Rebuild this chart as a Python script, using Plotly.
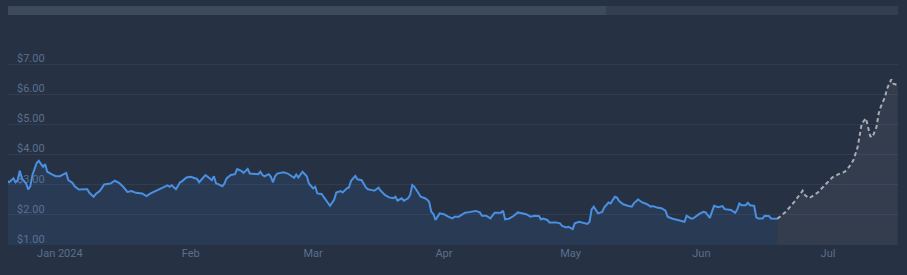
import pandas as pd
import plotly.graph_objects as go

# ---- data (day offsets from 2024-01-01, price in USD) ----
hist_days = [-12.5, -12, -11, -10.5, -10, -9.5, -9, -8.5, -8, -7.5, -7, -6.5, -5.5, -5, -4.5, -4, -3.5, -3, -2, -1,
             0, 0.5, 1.5, 2, 3, 3.5, 4.5, 6, 6.5, 7, 8, 8.5, 9.5, 10.5, 11.5, 12, 13, 14, 15, 16, 17, 18, 19.5, 20.5,
             21.5, 22.5, 23.5, 24.5, 25.5, 26, 26.5, 27.5, 28, 28.5, 29, 30, 31, 31.5, 32.5, 33, 34, 34.5, 35.5, 36,
             36.5, 37, 37.5, 38.5, 39, 39.5, 40.5, 41.5, 42, 43, 43.5, 44.5, 45, 46, 47, 47.5, 48, 48.5, 49.5, 50,
             50.5, 51, 51.5, 53, 54, 54.5, 55.5, 56, 56.5, 57.5, 58.5, 59, 60, 60.5, 61, 62, 63, 63.5, 64, 65, 65.5,
             66.5, 67, 68, 68.5, 69, 70, 70.5, 71.5, 72.5, 73, 74, 74.5, 75.5, 76, 77, 78, 79, 79.5, 80, 81, 81.5,
             82.5, 83, 83.5, 84, 85, 85.5, 86.5, 87, 87.5, 88, 88.5, 89, 89.5, 90, 91, 91.5, 92, 93, 93.5, 94.5, 95,
             96, 97, 98.5, 99.5, 100, 101, 102, 103, 104, 104.5, 105, 105.5, 106.5, 107.5, 108.5, 109.5, 110.5,
             111.5, 112.5, 113.5, 114, 114.5, 115.5, 116, 117.5, 118.5, 119, 120, 120.5, 121.5, 122, 123, 124, 125,
             125.5, 126, 126.5, 127.5, 128.5, 129, 130, 130.5, 131.5, 132, 132.5, 133.5, 134.5, 135.5, 136, 137,
             138, 139, 140, 140.5, 141.5, 142.5, 143.5, 144, 145, 145.5, 146.5, 147.5, 148, 148.5, 149.5, 150, 151,
             151.5, 152.5, 153, 154, 154.5, 155, 156, 157, 157.5, 159, 160, 160.5, 161, 161.5, 162.5, 163, 163.5,
             164.5, 165, 165.5, 166.5, 167, 168, 168.5, 170]
hist_price = [3.13, 3.08, 3.21, 3.08, 3.15, 3.46, 3.21, 3.13, 3.04, 2.84, 2.95, 3.32, 3.72, 3.79, 3.70, 3.59, 3.68, 3.43, 3.35, 3.28,
              3.28, 3.32, 3.39, 3.15, 3.06, 2.95, 2.84, 2.85, 2.85, 2.73, 2.60, 2.69, 2.80, 3.01, 3.02, 3.04, 3.13, 3.06, 2.93, 2.76, 2.79, 2.73, 2.71, 2.62,
              2.71, 2.78, 2.85, 2.90, 2.98, 2.93, 2.98, 2.85, 2.95, 3.08, 3.12, 3.24, 3.26, 3.24, 3.19, 3.08, 3.24, 3.32, 3.21, 3.15,
              3.28, 3.04, 3.02, 2.95, 3.04, 3.21, 3.32, 3.35, 3.52, 3.46, 3.39, 3.52, 3.37, 3.35, 3.35, 3.43, 3.32, 3.28, 3.35, 3.26,
              3.08, 3.28, 3.37, 3.41, 3.37, 3.32, 3.23, 3.34, 3.24, 3.43, 3.28, 3.04, 2.88, 2.93, 2.71, 2.69, 2.49, 2.36, 2.30, 2.51, 2.74,
              2.79, 2.74, 2.88, 2.91, 3.13, 3.29, 3.18, 3.15, 2.91, 2.85, 2.82, 2.80, 2.90, 2.80, 2.66, 2.58, 2.55, 2.60, 2.47, 2.55, 2.47,
              2.55, 2.66, 2.99, 2.93, 2.71, 2.60, 2.55, 2.51, 2.43, 2.10, 2.03, 1.83, 1.94, 2.05, 2.02, 1.97, 1.94, 1.88, 1.94, 1.94, 1.99,
              2.07, 2.09, 2.13, 2.08, 1.97, 1.97, 1.88, 2.07, 2.08, 2.07, 2.14, 1.85, 1.88, 1.96, 2.08, 2.05, 2.02,
              1.94, 1.97, 1.96, 1.85, 1.88, 1.83, 1.75, 1.75, 1.72, 1.63, 1.58, 1.60, 1.53, 1.72, 1.77, 1.74, 1.70,
              1.77, 2.18, 2.27, 2.05, 2.10, 2.25, 2.41, 2.38, 2.60, 2.57, 2.46, 2.35, 2.30, 2.27, 2.38, 2.51,
              2.41, 2.36, 2.27, 2.29, 2.24, 2.22, 2.14, 1.94, 1.88, 1.86, 1.83, 1.80, 1.77, 1.97, 1.88, 1.88, 1.99,
              2.03, 2.10, 2.08, 1.90, 2.10, 2.30, 2.25, 2.29, 2.19, 2.16, 2.07, 2.18, 2.38, 2.32, 2.32, 2.40, 2.32,
              2.30, 1.92, 1.88, 1.88, 1.97, 1.96, 1.88, 1.87]

fc_days = [170, 172, 174, 176, 176.5, 177.5, 179.5, 181.5, 183, 184.5, 186, 187, 188, 189, 189.5, 190, 191, 191.5,
           192, 192.5, 193.5, 194, 194.5, 195.5, 196, 197, 197.5, 198.5]
fc_price = [1.87, 2.10, 2.43, 2.80, 2.66, 2.55, 2.73, 3.02, 3.24, 3.35, 3.43, 3.59, 3.81, 4.23, 4.61, 5.03, 5.20, 4.92,
            4.61, 4.57, 4.92, 5.36, 5.58, 5.91, 6.19, 6.49, 6.35, 6.30]

month_ticks = ["2024-01-01", "2024-02-01", "2024-03-01", "2024-04-01", "2024-05-01", "2024-06-01", "2024-07-01"]
month_labels = ["Jan 2024", "Feb", "Mar", "Apr", "May", "Jun", "Jul"]
price_ticks = [1, 2, 3, 4, 5, 6, 7]
price_labels = ["$1.00", "$2.00", "$3.00", "$4.00", "$5.00", "$6.00", "$7.00"]

# ---- build ----
base = pd.Timestamp("2024-01-01")
hist_x = base + pd.to_timedelta(hist_days, unit="D")
fc_x = base + pd.to_timedelta(fc_days, unit="D")

BG = "#263244"
LABEL = "#5a6f8c"

fig = go.Figure()
fig.add_trace(go.Scatter(
    x=hist_x, y=hist_price, mode="lines",
    line=dict(color="#4a90e2", width=2),
    fill="tozeroy", fillcolor="rgba(70,140,230,0.10)",
    hoverinfo="skip", showlegend=False))
fig.add_trace(go.Scatter(
    x=fc_x, y=fc_price, mode="lines",
    line=dict(color="#a9adb3", width=2, dash="4px,3px"),
    fill="tozeroy", fillcolor="rgba(150,150,150,0.12)",
    hoverinfo="skip", showlegend=False))

# navigator bar above the plot
fig.add_shape(type="rect", xref="paper", x0=0, x1=1, yref="paper", yanchor=1, ysizemode="pixel",
              y0=34, y1=43, fillcolor="#333e4f", line_width=0, layer="above")
fig.add_shape(type="rect", xref="paper", x0=0, x1=0.672, yref="paper", yanchor=1, ysizemode="pixel",
              y0=34, y1=43, fillcolor="#3d4a5c", line_width=0, layer="above")

fig.update_layout(
    width=907, height=275,
    margin=dict(l=8, r=9, t=49, b=30),
    paper_bgcolor=BG, plot_bgcolor=BG,
    font=dict(family="Roboto, Open Sans, sans-serif", size=11, color=LABEL),
    xaxis=dict(
        range=["2023-12-19 17:00", "2024-07-17 14:00"],
        tickvals=month_ticks, ticktext=month_labels,
        showgrid=False, zeroline=False, showline=False, ticks="",
        tickfont=dict(size=11, color=LABEL),
    ),
    yaxis=dict(
        range=[1, 7.5], tickvals=price_ticks, ticktext=price_labels,
        ticklabelposition="inside", ticklabelstandoff=6, ticklabelshift=-6,
        ticklabeloverflow="allow",
        showgrid=True, gridcolor="#303d51", gridwidth=1,
        zeroline=False, showline=False, ticks="",
        tickfont=dict(size=11, color=LABEL),
        layer="below traces",
    ),
)

fig.write_html("out.html")
